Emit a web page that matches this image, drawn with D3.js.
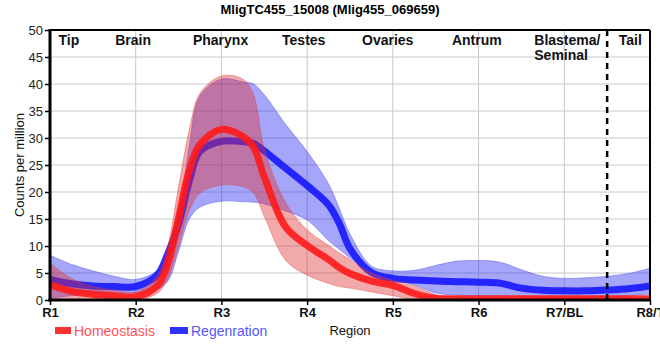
<!DOCTYPE html>
<html><head><meta charset="utf-8">
<script src="https://cdn.jsdelivr.net/npm/d3@7"></script>
<style>body{margin:0;background:#fff}svg{display:block;font-family:"Liberation Sans",Arial,sans-serif}</style>
</head><body><svg id="c" width="660" height="360"></svg>
<script>
const title = "MligTC455_15008 (Mlig455_069659)";
const regionTicks = [1,2,3,4,5,6,7,8];
const regionTickLabels = ["R1","R2","R3","R4","R5","R6","R7/BL","R8/T"];
const yTicks = [0,5,10,15,20,25,30,35,40,45,50];
const tissueNames = ["Tip","Brain","Pharynx","Testes","Ovaries","Antrum","Blastema/|Seminal","Tail"];
const tissuePos = [1.22,1.97,2.99,3.96,4.94,5.98,6.65,7.77];
const dividerPos = 7.5;
const seriesNames = ["Homeostasis","Regenration"];
const xPos = [1,1.25,1.5,1.75,2,2.25,2.375,2.5,2.625,2.75,3,3.25,3.375,3.5,3.75,4,4.25,4.375,4.5,4.75,5,5.25,5.5,5.75,6,6.25,6.5,6.75,7,7.25,7.5,7.75,8];
const homMean = [2.8,1.6,1.05,0.75,0.6,2.6,6.8,15.2,24,28.8,31.6,30.3,28.3,22.8,13.5,10.1,7.5,6.0,4.9,3.5,2.7,1.2,0.3,0.25,0.25,0.25,0.25,0.25,0.25,0.25,0.25,0.25,0.25];
const homUpper = [6.8,4.0,2.5,1.8,1.5,4.5,10,21,31.5,38.3,41.5,40.9,38,28,18,13,10.1,8.7,7.5,5.0,3.6,2.6,1.0,0.6,0.5,0.5,0.5,0.5,0.5,0.5,0.5,0.5,0.5];
const homLower = [0,0,0,0,0,1.2,4,10,16.5,19.8,21.3,21,19.8,15.5,7.3,4.6,3.1,2.5,2.2,1.5,0.8,0.1,0,0,0,0,0,0,0,0,0,0,0];
const regMean = [3.8,3.0,2.6,2.5,2.5,4.6,8.6,14,22,27.5,29.4,29.3,29.0,27.6,24.4,21.2,17.6,14.2,9.5,5.1,4.0,3.7,3.5,3.4,3.3,3.1,2.2,1.8,1.7,1.7,1.85,2.1,2.6];
const regUpper = [8.3,6.6,5.4,4.4,3.8,5.5,9.2,15,28.5,37.8,40.9,40.4,40.0,38,32.5,27.5,21.5,17,12.2,6.3,5.4,5.5,6.4,7.2,7.3,7.0,5.6,4.4,4.0,4.1,4.4,4.9,5.9];
const regLower = [0.3,0.8,1.1,1.2,1.3,2.0,3.5,9,15,17.2,18.3,18.2,18.1,17.8,16.5,14.8,11,9.4,7.8,5.3,3.9,2.8,1.3,0.9,0.8,0.8,0.6,0.5,0.5,0.5,0.6,0.8,1.1];

const svg = d3.select("#c");
const L=50,R=650,T=30,B=300;
const x = d3.scaleLinear().domain([1,8]).range([L,R]);
const y = d3.scaleLinear().domain([0,50]).range([B,T]);
const curve = d3.curveCatmullRom.alpha(0.5);

svg.append("defs").append("clipPath").attr("id","clip")
  .append("rect").attr("x",L).attr("y",T).attr("width",R-L).attr("height",B-T);

// grid
const g = svg.append("g");
g.selectAll(".hg").data(yTicks).join("line").attr("x1",L).attr("x2",R)
  .attr("y1",d=>y(d)).attr("y2",d=>y(d)).attr("stroke","#c8c8c8").attr("stroke-width",1);
g.selectAll(".vg").data(regionTicks).join("line").attr("y1",T).attr("y2",B)
  .attr("x1",d=>x(d)).attr("x2",d=>x(d)).attr("stroke","#c8c8c8").attr("stroke-width",1);

const plot = svg.append("g").attr("clip-path","url(#clip)");
const area = (lo,hi)=>d3.area().x((d,i)=>x(xPos[i])).y0((d,i)=>y(lo[i])).y1((d,i)=>y(hi[i])).curve(curve)(xPos);
const line = (m)=>d3.line().x((d,i)=>x(xPos[i])).y((d,i)=>y(m[i])).curve(curve)(xPos);

plot.append("path").attr("d",area(regLower,regUpper)).attr("fill","rgb(40,40,240)").attr("fill-opacity",0.42)
  .attr("stroke","rgb(60,60,240)").attr("stroke-opacity",0.4).attr("stroke-width",1);
plot.append("path").attr("d",line(regMean)).attr("fill","none").attr("stroke","#1a1aff").attr("stroke-width",7).attr("stroke-opacity",0.92);
plot.append("path").attr("d",area(homLower,homUpper)).attr("fill","rgb(225,50,50)").attr("fill-opacity",0.42)
  .attr("stroke","rgb(225,60,60)").attr("stroke-opacity",0.4).attr("stroke-width",1);
plot.append("path").attr("d",line(homMean)).attr("fill","none").attr("stroke","#ff1a1a").attr("stroke-width",7).attr("stroke-opacity",0.9);

// divider
svg.append("line").attr("x1",x(dividerPos)).attr("x2",x(dividerPos)).attr("y1",T).attr("y2",B)
  .attr("stroke","#000").attr("stroke-width",2.5).attr("stroke-dasharray","6,5");

// border and axes
svg.append("line").attr("x1",L).attr("x2",R).attr("y1",T).attr("y2",T).attr("stroke","#000").attr("stroke-width",2);
svg.append("line").attr("x1",R).attr("x2",R).attr("y1",T).attr("y2",B).attr("stroke","#000").attr("stroke-width",2);
svg.append("line").attr("x1",L).attr("x2",L).attr("y1",T-1).attr("y2",B+1.5).attr("stroke","#000").attr("stroke-width",3);
svg.append("line").attr("x1",L-1.5).attr("x2",R+1).attr("y1",B).attr("y2",B).attr("stroke","#000").attr("stroke-width",3);

// y ticks
const ya = svg.append("g").attr("transform",`translate(${L},0)`)
  .call(d3.axisLeft(y).tickValues(yTicks).tickSize(5).tickPadding(2));
ya.select(".domain").remove();
ya.selectAll("line").attr("stroke","#000").attr("stroke-width",1.5);
ya.selectAll("text").attr("font-size",13).attr("fill","#222").attr("font-family","Liberation Sans, Arial, sans-serif");

// x ticks
const xa = svg.append("g").attr("transform",`translate(0,${B})`)
  .call(d3.axisBottom(x).tickValues(regionTicks).tickFormat((d,i)=>regionTickLabels[i]).tickSize(5).tickPadding(3));
xa.select(".domain").remove();
xa.selectAll("line").attr("stroke","#000").attr("stroke-width",1.5);
xa.selectAll("text").attr("font-size",13).attr("font-weight","bold").attr("fill","#111").attr("font-family","Liberation Sans, Arial, sans-serif");

// tissue labels
tissueNames.forEach((n,i)=>{
  const parts = n.split("|");
  const t = svg.append("text").attr("x",x(tissuePos[i])).attr("y",45)
    .attr("text-anchor",parts.length>1?"start":"middle").attr("font-size",14).attr("font-weight","bold").attr("fill","#111");
  parts.forEach((p,j)=>t.append("tspan").attr("x",x(tissuePos[i])).attr("dy",j?15:0).text(p));
});

// title
svg.append("text").attr("x",330).attr("y",14).attr("text-anchor","middle").attr("font-size",13).attr("font-weight","bold").text(title);
// y title
svg.append("text").attr("transform","translate(24,165) rotate(-90)").attr("text-anchor","middle").attr("font-size",13).attr("fill","#111").text("Counts per million");
// x title
svg.append("text").attr("x",350).attr("y",335).attr("text-anchor","middle").attr("font-size",13).attr("fill","#111").text("Region");

// legend
const legCols = ["#ff3030","#3030ff"], legText = ["#ff5555","#5555ff"], legX=[55,170], legW=[16,18];
seriesNames.forEach((s,i)=>{
  svg.append("rect").attr("x",legX[i]).attr("y",327).attr("width",legW[i]).attr("height",7).attr("fill",legCols[i]);
  svg.append("text").attr("x",legX[i]+legW[i]+3).attr("y",335.5).attr("font-size",14).attr("fill",legText[i]).text(s);
});
</script></body></html>
